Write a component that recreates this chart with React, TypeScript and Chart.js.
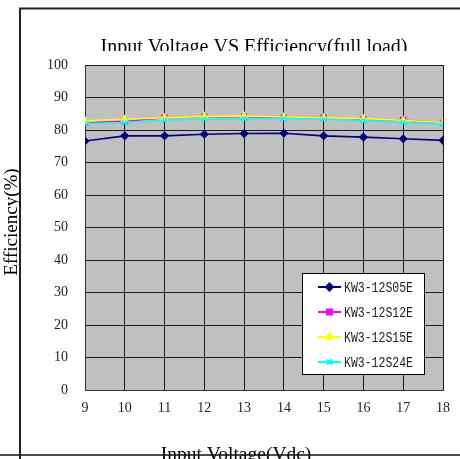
import React, { useEffect, useRef } from "react";
import { Chart, registerables } from "chart.js";
import { drawPoint } from "chart.js/helpers";

Chart.register(...registerables);

const voltages = [9, 10, 11, 12, 13, 14, 15, 16, 17, 18];
const seriesNames = ["KW3-12S05E", "KW3-12S12E", "KW3-12S15E", "KW3-12S24E"];
const s05 = [76.6, 78.2, 78.2, 78.7, 78.9, 79.0, 78.2, 77.8, 77.3, 76.8];
const s12 = [82.2, 82.7, 83.8, 84.1, 84.1, 83.8, 83.8, 83.3, 83.1, 82.2];
const s15 = [82.8, 83.3, 83.8, 84.2, 84.3, 84.0, 83.8, 83.5, 83.0, 82.3];
const s24 = [82.0, 82.3, 83.0, 83.3, 83.5, 83.5, 83.3, 82.8, 82.3, 81.8];
const yTicks = [0, 10, 20, 30, 40, 50, 60, 70, 80, 90, 100];
const titleText = "Input Voltage VS Efficiency(full load)";
const xTitle = "Input Voltage(Vdc)";
const yTitle = "Efficiency(%)";

const colors = ["#000080", "#FF00FF", "#FFFF00", "#00FFFF"];
const styles = ["rectRot", "rect", "triangle", "crossRot"];
const values = [s05, s12, s15, s24];

const decorPlugin = {
  id: "decor",
  beforeDraw(chart: any) {
    const { ctx, chartArea } = chart;
    ctx.save();
    ctx.fillStyle = "#FFFFFF";
    ctx.fillRect(0, 0, chart.width, chart.height);
    ctx.fillStyle = "#C0C0C0";
    ctx.fillRect(chartArea.left, chartArea.top, chartArea.right - chartArea.left, chartArea.bottom - chartArea.top);
    ctx.restore();
  },
  afterDraw(chart: any) {
    const { ctx } = chart;
    ctx.save();
    // frame
    ctx.strokeStyle = "#222";
    ctx.lineWidth = 2;
    ctx.beginPath();
    ctx.moveTo(20, 459);
    ctx.lineTo(20, 8.5);
    ctx.lineTo(460, 8.5);
    ctx.stroke();
    // title (clipped like the scan)
    ctx.save();
    ctx.beginPath();
    ctx.rect(0, 0, 460, 51);
    ctx.clip();
    ctx.fillStyle = "#000";
    ctx.font = "20px 'Liberation Serif'";
    ctx.textAlign = "center";
    ctx.textBaseline = "alphabetic";
    ctx.fillText(titleText, 254, 52.5);
    ctx.restore();
    // x title
    ctx.fillStyle = "#000";
    ctx.font = "19.5px 'Liberation Serif'";
    ctx.textAlign = "center";
    ctx.textBaseline = "alphabetic";
    ctx.fillText(xTitle, 236, 459.5);
    ctx.strokeStyle = "#111";
    ctx.lineWidth = 1.5;
    ctx.beginPath();
    ctx.moveTo(0, 455);
    ctx.lineTo(460, 455);
    ctx.stroke();
    // y title
    ctx.save();
    ctx.translate(17, 222);
    ctx.rotate(-Math.PI / 2);
    ctx.font = "19px 'Liberation Serif'";
    ctx.textAlign = "center";
    ctx.textBaseline = "alphabetic";
    ctx.fillText(yTitle, 0, 0);
    ctx.restore();
    // legend
    const bx = 302, by = 273, bw = 122, bh = 101;
    ctx.fillStyle = "#FFFFFF";
    ctx.fillRect(bx, by, bw, bh);
    ctx.strokeStyle = "#000";
    ctx.lineWidth = 1;
    ctx.strokeRect(bx + 0.5, by + 0.5, bw, bh);
    chart.data.datasets.forEach((ds: any, i: number) => {
      const y = 287 + i * 25;
      ctx.strokeStyle = ds.borderColor;
      ctx.lineWidth = 2;
      ctx.beginPath();
      ctx.moveTo(318, y);
      ctx.lineTo(341, y);
      ctx.stroke();
      ctx.fillStyle = ds.pointBackgroundColor;
      ctx.strokeStyle = ds.pointBorderColor;
      drawPoint(ctx, { pointStyle: ds.pointStyle, radius: ds.pointRadius, rotation: 0, borderWidth: 1.5 } as any, 329.5, y);
      ctx.fillStyle = "#222";
      ctx.font = "14px 'Liberation Mono'";
      ctx.textAlign = "left";
      ctx.textBaseline = "middle";
      ctx.fillText(ds.label, 344, y + 1, 69);
    });
    ctx.restore();
  },
};

export default function App() {
  const ref = useRef<HTMLCanvasElement | null>(null);
  useEffect(() => {
    if (!ref.current) return;
    const chart = new Chart(ref.current, {
      type: "line",
      data: {
        datasets: values.map((vals, i) => ({
          label: seriesNames[i],
          data: voltages.map((v, j) => ({ x: v, y: vals[j] })),
          borderColor: colors[i],
          backgroundColor: colors[i],
          pointBackgroundColor: colors[i],
          pointBorderColor: colors[i],
          pointStyle: styles[i] as any,
          pointRadius: 3.5,
          pointBorderWidth: 1.5,
          borderWidth: 1.6,
          order: 4 - i,
          tension: 0,
        })),
      },
      options: {
        responsive: false,
        animation: false,
        layout: { padding: { top: 65, right: 17, bottom: 0, left: 0 } },
        plugins: { legend: { display: false }, title: { display: false }, tooltip: { enabled: false } },
        scales: {
          x: {
            type: "linear",
            min: 9,
            max: 18,
            afterFit: (s: any) => { s.height = 69; },
            afterBuildTicks: (s: any) => { s.ticks = voltages.map((v) => ({ value: v })); },
            ticks: { stepSize: 1, padding: 10, color: "#222", font: { family: "'Liberation Serif'", size: 14 } },
            grid: { color: "#1a1a1a", lineWidth: 1, drawTicks: false },
            border: { color: "#333", width: 1 },
          },
          y: {
            type: "linear",
            min: 0,
            max: 100,
            afterFit: (s: any) => { s.width = 85; },
            afterBuildTicks: (s: any) => { s.ticks = yTicks.map((v) => ({ value: v })); },
            ticks: { stepSize: 10, padding: 17, color: "#222", font: { family: "'Liberation Serif'", size: 14 } },
            grid: { color: "#1a1a1a", lineWidth: 1, drawTicks: false },
            border: { color: "#333", width: 1 },
          },
        },
      },
      plugins: [decorPlugin],
    });
    return () => chart.destroy();
  }, []);
  return (
    <div style={{ position: "absolute", left: 0, top: 0, width: 460, height: 459 }}>
      <canvas ref={ref} width={460} height={459} style={{ display: "block" }} />
    </div>
  );
}
